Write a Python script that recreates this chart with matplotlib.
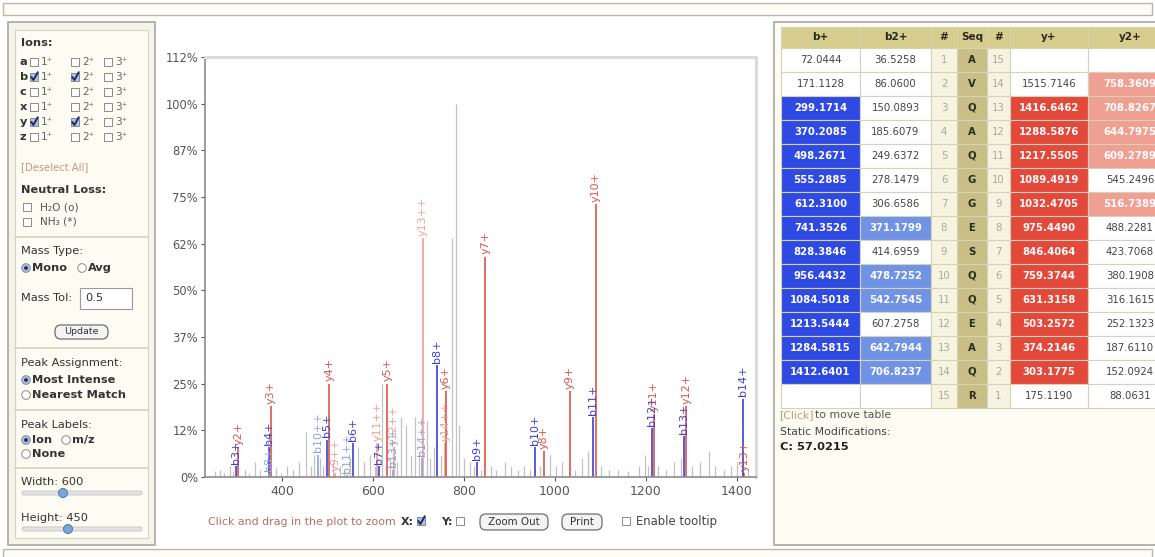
"""Spectrum viewer panel: annotated MS/MS peaks next to the fragment ion table."""
import matplotlib
matplotlib.use("Agg")
import matplotlib.pyplot as plt
from matplotlib.patches import Rectangle, FancyBboxPatch, Circle

W, H = 1155, 557

# peptide and fragment ion masses
SEQ = ["A", "V", "Q", "A", "Q", "G", "G", "E", "S", "Q", "Q", "E", "A", "Q", "R"]
B1 = ["72.0444", "171.1128", "299.1714", "370.2085", "498.2671", "555.2885",
      "612.3100", "741.3526", "828.3846", "956.4432", "1084.5018", "1213.5444",
      "1284.5815", "1412.6401", ""]
B2 = ["36.5258", "86.0600", "150.0893", "185.6079", "249.6372", "278.1479",
      "306.6586", "371.1799", "414.6959", "478.7252", "542.7545", "607.2758",
      "642.7944", "706.8237", ""]
Y1 = ["", "1515.7146", "1416.6462", "1288.5876", "1217.5505", "1089.4919",
      "1032.4705", "975.4490", "846.4064", "759.3744", "631.3158", "503.2572",
      "374.2146", "303.1775", "175.1190"]
Y2 = ["", "758.3609", "708.8267", "644.7975", "609.2789", "545.2496",
      "516.7389", "488.2281", "423.7068", "380.1908", "316.1615", "252.1323",
      "187.6110", "152.0924", "88.0631"]

# which table cells have a matching peak
B1_HIT = [0, 0, 1, 1, 1, 1, 1, 1, 1, 1, 1, 1, 1, 1, 0]
B2_HIT = [0, 0, 0, 0, 0, 0, 0, 1, 0, 1, 1, 0, 1, 1, 0]
Y1_HIT = [0, 0, 1, 1, 1, 1, 1, 1, 1, 1, 1, 1, 1, 1, 0]
Y2_HIT = [0, 1, 1, 1, 1, 0, 1, 0, 0, 0, 0, 0, 0, 0, 0]

# relative intensity (%) of the matched peaks
ION_INT = {
    "b3+": 3, "b4+": 8, "b5+": 10, "b6+": 9, "b7+": 3, "b8+": 30, "b9+": 4,
    "b10+": 8, "b11+": 16, "b12+": 13, "b13+": 11, "b14+": 21,
    "b8++": 1, "b10++": 6, "b11++": 0.5, "b13++": 2, "b14++": 5,
    "y2+": 8, "y3+": 19, "y4+": 25, "y5+": 25, "y6+": 23, "y7+": 59, "y8+": 7,
    "y9+": 23, "y10+": 73, "y11+": 17, "y12+": 19, "y13+": 1,
    "y14++": 9, "y13++": 64, "y12++": 8, "y11++": 9, "y9++": 1,
}

# unassigned peaks
NOISE_MZ = [252, 263, 271, 284, 291, 318, 327, 341, 352, 386, 398, 411, 423, 437,
            452, 463, 470, 484, 490, 511, 527, 535, 548, 567, 580, 592, 603, 620,
            636, 652, 661, 672, 684, 693, 700, 718, 726, 733, 750, 773, 782, 788,
            799, 812, 821, 836, 858, 871, 889, 903, 918, 931, 944, 966, 988, 1001,
            1016, 1044, 1060, 1072, 1101, 1118, 1139, 1160, 1185, 1197, 1204, 1226,
            1245, 1262, 1277, 1301, 1318, 1339, 1352, 1371, 1388, 1400, 1424]
NOISE_INT = [1.5, 2, 1, 3, 1.5, 2, 1, 4, 2, 2.5, 1, 3, 2, 4, 12, 3, 6, 5, 3, 4,
             3, 2, 5, 8, 4, 6, 3, 25, 5, 4, 16, 14, 6, 16, 7, 15, 5, 8, 6, 64,
             100, 14, 5, 4, 3, 2, 3, 2, 4, 3, 2, 3, 2, 3, 6, 3, 4, 2, 5, 7,
             3, 2, 2, 1.5, 3, 6, 3, 3, 2, 4, 5, 3, 4, 7, 3, 2, 3, 4, 2]

Y_TICKS = [0, 12.5, 25, 37.5, 50, 62.5, 75, 87.5, 100, 112.5]
X_TICKS = [400, 600, 800, 1000, 1200, 1400]
X_RANGE = (230, 1442)

PEAK_COL = {"b1": "#3b3fd6", "b2": "#8ea2e6", "y1": "#de5448", "y2": "#eda095"}
CELL_COL = {"b1": "#2f4ae2", "b2": "#7193e6", "y1": "#e2493b", "y2": "#f0a092"}

PANEL_FC = "#fcfcf2"
BORDER = "#a8a8a0"
TXT = "#333333"
UI_SIZE = 8.2


def matched_peaks():
    peaks = []
    n = len(SEQ)
    for i in range(n):
        if B1_HIT[i]:
            peaks.append((float(B1[i]), f"b{i + 1}+", "b1"))
        if B2_HIT[i]:
            peaks.append((float(B2[i]), f"b{i + 1}++", "b2"))
        if Y1_HIT[i]:
            peaks.append((float(Y1[i]), f"y{n - i}+", "y1"))
        if Y2_HIT[i]:
            peaks.append((float(Y2[i]), f"y{n - i}++", "y2"))
    return peaks


# --- small widget helpers, all in pixel coordinates (y grows downward) ---
def box(ax, x0, y0, x1, y1, fc="none", ec=BORDER, lw=1.0, z=1):
    ax.add_patch(Rectangle((x0, y0), x1 - x0, y1 - y0, facecolor=fc,
                           edgecolor=ec, linewidth=lw, zorder=z))


def label(ax, x, y, s, size=UI_SIZE, bold=False, color=TXT, ha="left", z=5):
    ax.text(x, y, s, fontsize=size, fontweight="bold" if bold else "normal",
            color=color, ha=ha, va="center", zorder=z)


def checkbox(ax, x, y, checked=False):
    s = 8
    ax.add_patch(Rectangle((x, y - s / 2), s, s, facecolor="#a9c3ea" if checked else "white",
                           edgecolor="#8a8a8a", linewidth=0.7, zorder=3))
    if checked:
        ax.plot([x + 1.3, x + 3.4, x + 7.8], [y, y + 3, y - 4.8], color="#1c2d66",
                lw=1.4, zorder=4, solid_capstyle="round")


def radio(ax, x, y, checked=False):
    ax.add_patch(Circle((x, y), 4.3, facecolor="#a9c3ea" if checked else "white",
                        edgecolor="#8a8a8a", linewidth=0.7, zorder=3))
    if checked:
        ax.add_patch(Circle((x, y), 1.9, facecolor="#1c2d66", edgecolor="none", zorder=4))


def button(ax, x0, y0, x1, y1, text, size=7.2):
    ax.add_patch(FancyBboxPatch((x0, y0), x1 - x0, y1 - y0,
                                boxstyle="round,pad=0,rounding_size=6",
                                facecolor="#f4f4f4", edgecolor="#6e6e6e",
                                linewidth=0.9, zorder=3))
    label(ax, (x0 + x1) / 2, (y0 + y1) / 2, text, size=size, ha="center")


def slider(ax, y, handle_x):
    ax.add_patch(FancyBboxPatch((22, y - 2), 120, 4, boxstyle="round,pad=0,rounding_size=2",
                                facecolor="#e2e2e2", edgecolor="#c4c4c4", linewidth=0.6, zorder=3))
    ax.add_patch(Circle((handle_x, y), 4.5, facecolor="#7aa6d8", edgecolor="#4a76b0",
                        linewidth=0.7, zorder=4))


def draw_left_panel(ui):
    box(ui, 8, 22, 155, 545, fc="#f4f4ea", ec=BORDER, lw=1.2)
    box(ui, 15, 30, 148, 538, fc=PANEL_FC, ec="#d4d4c4", lw=0.8)
    for sy in (237, 348, 410, 468):
        ui.plot([15, 148], [sy, sy], color="#d4d4c4", lw=1.2, zorder=2)

    label(ui, 21, 43, "Ions:", bold=True)
    checked = {"b": (1, 1, 0), "y": (1, 1, 0)}
    for k, ion in enumerate(["a", "b", "c", "x", "y", "z"]):
        y = 62 + 15 * k
        flags = checked.get(ion, (0, 0, 0))
        label(ui, 20, y, ion, bold=True)
        for j, (cx, tx) in enumerate([(30, 41), (71, 82), (104, 115)]):
            checkbox(ui, cx, y, bool(flags[j]))
            label(ui, tx, y, f"{j + 1}\u207a", color="#666666", size=7.6)
    label(ui, 21, 167, "[Deselect All]", size=7.2, color="#c49a78")

    label(ui, 21, 190, "Neutral Loss:", bold=True)
    checkbox(ui, 23, 207)
    label(ui, 40, 207, "H\u2082O (o)", color="#555555", size=7.6)
    checkbox(ui, 23, 222)
    label(ui, 40, 222, "NH\u2083 (*)", color="#555555", size=7.6)

    label(ui, 21, 251, "Mass Type:")
    radio(ui, 26, 268, True)
    label(ui, 32, 268, "Mono", bold=True)
    radio(ui, 82, 268)
    label(ui, 88, 268, "Avg", bold=True)
    label(ui, 21, 298, "Mass Tol:")
    box(ui, 80, 288, 132, 309, fc="white", ec="#9a9a9a", lw=0.8, z=3)
    label(ui, 85, 298, "0.5")
    button(ui, 55, 325, 108, 339, "Update", size=6.8)

    label(ui, 21, 363, "Peak Assignment:")
    radio(ui, 26, 380, True)
    label(ui, 32, 380, "Most Intense", bold=True)
    radio(ui, 26, 395)
    label(ui, 32, 395, "Nearest Match", bold=True)

    label(ui, 21, 425, "Peak Labels:")
    radio(ui, 26, 440, True)
    label(ui, 32, 440, "Ion", bold=True)
    radio(ui, 66, 440)
    label(ui, 72, 440, "m/z", bold=True)
    radio(ui, 26, 454)
    label(ui, 32, 454, "None", bold=True)

    label(ui, 21, 482, "Width: 600")
    slider(ui, 493, 63)
    label(ui, 21, 518, "Height: 450")
    slider(ui, 529, 68)


def draw_table_panel(ui):
    box(ui, 774, 22, 1162, 545, fc=PANEL_FC, ec=BORDER, lw=1.2)
    cols = [781, 860, 931, 957, 987, 1010, 1088, 1172]
    heads = ["b+", "b2+", "#", "Seq", "#", "y+", "y2+"]
    grid = "#d6d2b8"
    top, hh, rh = 27, 21, 24

    for c, head in enumerate(heads):
        box(ui, cols[c], top, cols[c + 1], top + hh, fc="#d6cd8e", ec=grid, lw=0.8, z=2)
        label(ui, (cols[c] + cols[c + 1]) / 2, top + hh / 2, head, size=7.5, bold=True,
              color="#2a2a20", ha="center")

    n = len(SEQ)
    for i in range(n):
        y0 = top + hh + rh * i
        yc = y0 + rh / 2
        cells = [(B1[i], "b1", B1_HIT[i]), (B2[i], "b2", B2_HIT[i]),
                 (str(i + 1), "num", 0), (SEQ[i], "seq", 0), (str(n - i), "num", 0),
                 (Y1[i], "y1", Y1_HIT[i]), (Y2[i], "y2", Y2_HIT[i])]
        for c, (txt, kind, hit) in enumerate(cells):
            if kind == "num":
                fc, col, bold = "#f6f3e0", "#a8a8a0", False
            elif kind == "seq":
                fc, col, bold = "#c8bf86", "#2a2a20", True
            elif hit:
                fc, col, bold = CELL_COL[kind], "white", True
            else:
                fc, col, bold = "white", "#444444", False
            box(ui, cols[c], y0, cols[c + 1], y0 + rh, fc=fc, ec=grid, lw=0.8, z=2)
            label(ui, (cols[c] + cols[c + 1]) / 2, yc, txt, size=7.3, bold=bold,
                  color=col, ha="center")

    label(ui, 779, 415, "[Click]", size=7.8, color="#c49a78")
    label(ui, 815, 415, "to move table", size=7.8, color="#555555")
    label(ui, 780, 432, "Static Modifications:", size=7.8, color="#444444")
    label(ui, 780, 447, "C: 57.0215", size=8.2, bold=True, color="#222222")


def draw_plot_controls(ui):
    label(ui, 208, 522, "Click and drag in the plot to zoom", size=7.9, color="#b5705a")
    label(ui, 401, 522, "X:", size=7.9, bold=True)
    checkbox(ui, 417, 521, True)
    label(ui, 441, 522, "Y:", size=7.9, bold=True)
    checkbox(ui, 456, 521)
    button(ui, 480, 514, 548, 530, "Zoom Out", size=7.4)
    button(ui, 562, 514, 602, 530, "Print", size=7.4)
    checkbox(ui, 622, 521)
    label(ui, 636, 522, "Enable tooltip", size=8.4, color="#444444")


def draw_spectrum(ax):
    ax.vlines(NOISE_MZ, 0, NOISE_INT, color="#c2c2c2", linewidth=0.9, zorder=1)
    for mz, name, kind in matched_peaks():
        h = ION_INT[name]
        ax.vlines(mz, 0, h, color=PEAK_COL[kind], linewidth=1.2, zorder=2)
        ax.text(mz, h + 0.6, name, rotation=90, ha="center", va="bottom",
                fontsize=8, color=PEAK_COL[kind], zorder=3)

    ax.set_xlim(*X_RANGE)
    ax.set_ylim(0, Y_TICKS[-1])
    ax.set_yticks(Y_TICKS)
    ax.set_yticklabels([f"{int(v)}%" for v in Y_TICKS])
    ax.set_xticks(X_TICKS)
    ax.tick_params(axis="both", colors="#555555", length=3, width=0.8)
    ax.tick_params(axis="y", labelsize=8.3, pad=2)
    ax.tick_params(axis="x", labelsize=9, pad=3)
    for side in ("left", "bottom"):
        ax.spines[side].set_color("#8c8c8c")
        ax.spines[side].set_linewidth(1.2)
    for side in ("top", "right"):
        ax.spines[side].set_color("#dadada")
        ax.spines[side].set_linewidth(2.2)


def main():
    fig = plt.figure(figsize=(W / 100, H / 100), dpi=100)
    fig.patch.set_facecolor("white")

    ui = fig.add_axes([0, 0, 1, 1], zorder=0)
    ui.set_xlim(0, W)
    ui.set_ylim(H, 0)
    ui.axis("off")

    # outer page strips
    box(ui, 3, 3, 1152, 15, fc=PANEL_FC, ec="#b8b8b0", lw=1.0)
    box(ui, 3, 549, 1152, 562, fc=PANEL_FC, ec="#b8b8b0", lw=1.0)

    draw_left_panel(ui)
    draw_table_panel(ui)
    draw_plot_controls(ui)

    # spectrum axes placed at pixel box (205..756, 57..477)
    x0, x1, y0, y1 = 205, 756, 57, 477
    ax = fig.add_axes([x0 / W, 1 - y1 / H, (x1 - x0) / W, (y1 - y0) / H], zorder=1)
    ax.set_facecolor("white")
    draw_spectrum(ax)

    fig.savefig("out.png", dpi=100)


if __name__ == "__main__":
    main()
